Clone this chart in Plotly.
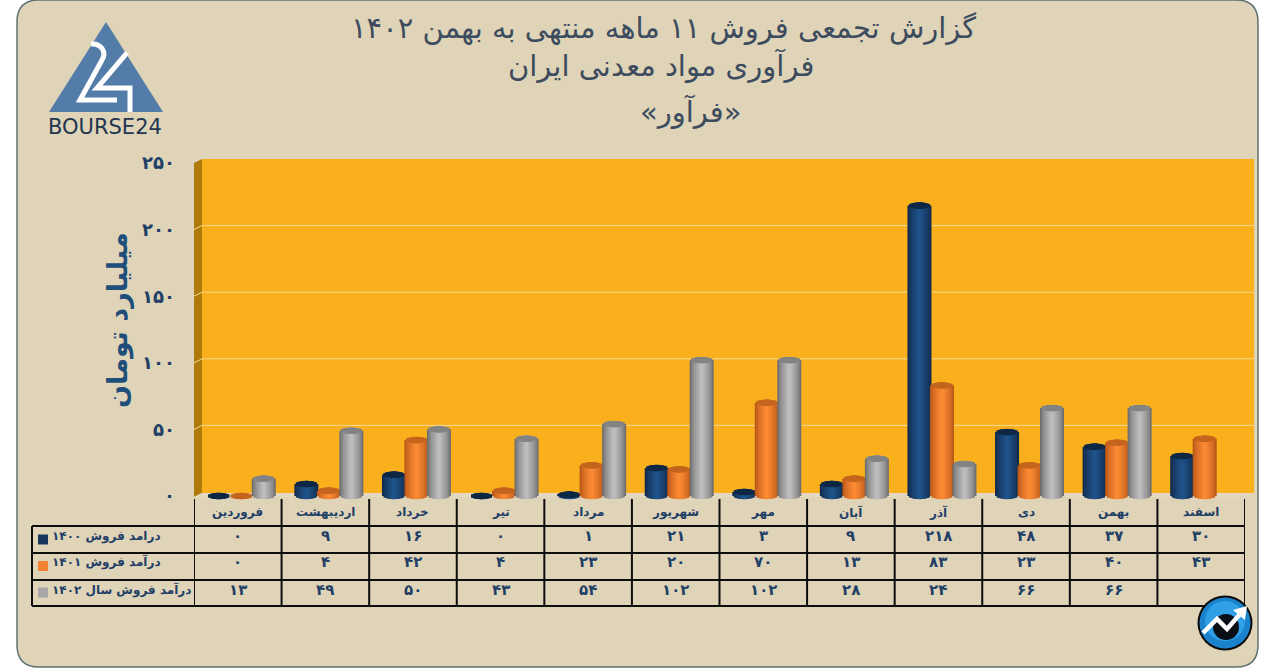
import math
import plotly.graph_objects as go

months = ["فروردین", "اردیبهشت", "خرداد", "تیر", "مرداد", "شهریور", "مهر", "آبان", "آذر", "دی", "بهمن", "اسفند"]
sales_1400 = [0, 9, 16, 0, 1, 21, 3, 9, 218, 48, 37, 30]
sales_1401 = [0, 4, 42, 4, 23, 20, 70, 13, 83, 23, 40, 43]
sales_1402 = [13, 49, 50, 43, 54, 102, 102, 28, 24, 66, 66, None]
row_labels = ["درامد فروش ۱۴۰۰", "درآمد فروش ۱۴۰۱", "درآمد فروش سال ۱۴۰۲"]
y_ticks = [0, 50, 100, 150, 200, 250]
title_lines = ["گزارش تجمعی فروش ۱۱ ماهه منتهی به بهمن ۱۴۰۲", "فرآوری مواد معدنی ایران", "«فرآور»"]
y_title = "میلیارد تومان"
brand = "BOURSE24"

W, H = 1271, 669
FONT = "DejaVu Sans"
NAVY = "#1F3F66"


def fa(v):
    return "" if v is None else str(v).translate(str.maketrans("0123456789", "۰۱۲۳۴۵۶۷۸۹"))


def px(x):
    return x / W


def py(y):
    return 1 - y / H


def pt(x, y):
    return f"{px(x):.5f},{py(y):.5f}"


def path(points, close=True):
    s = "M " + " L ".join(pt(x, y) for x, y in points)
    return s + (" Z" if close else "")


PLOT_L, PLOT_R, Y0, Y250 = 194, 1245, 496, 163
UNIT = (Y0 - Y250) / 250
BAND = (PLOT_R - PLOT_L) / 12
AXIS_FLOOR = -6  # room below zero for the rounded cylinder bottoms

series = [
    (sales_1400, "#11294A", "#1F5288", "#0E2744", -22.5),
    (sales_1401, "#B9571A", "#FB8A33", "#C4651E", 0.0),
    (sales_1402, "#6E6E6E", "#BDBDBD", "#838383", 22.5),
]


def mix(a, b, t):
    ca = [int(a[i:i + 2], 16) for i in (1, 3, 5)]
    cb = [int(b[i:i + 2], 16) for i in (1, 3, 5)]
    return "#" + "".join(f"{round(p + (q - p) * t):02x}" for p, q in zip(ca, cb))


fig = go.Figure()
LEVELS = 8
HALF = 12.0
SEMI = 3.2
for vals, edge, centre, cap, off_px in series:
    idx = [i for i, v in enumerate(vals) if v is not None]
    xs = [i + (off_px + 3.5) / BAND for i in idx]
    vs = [vals[i] for i in idx]
    for part in ("body", "cap"):
        for k in range(LEVELS):
            d = HALF * (1 - k / LEVELS)
            e = SEMI * math.sqrt(max(0, 1 - (d / HALF) ** 2)) / UNIT
            if part == "body":
                t = (k / (LEVELS - 1)) ** 0.7
                colour = mix(edge, centre, t)
                base = [-e] * len(vs)
                height = [v + 2 * e for v in vs]
            else:
                colour = cap
                base = [v - e for v in vs]
                height = [2 * e] * len(vs)
            fig.add_trace(go.Bar(x=xs, y=height, base=base, width=2 * d / BAND,
                                 marker=dict(color=colour, line=dict(width=0)),
                                 cliponaxis=False, hoverinfo="skip", showlegend=False))

shapes = []
# card
R = 22
L, T, Rt, B = 17, 0, 1258, 667
card = (f"M {pt(L + R, T)} L {pt(Rt - R, T)} Q {pt(Rt, T)} {pt(Rt, T + R)} L {pt(Rt, B - R)} "
        f"Q {pt(Rt, B)} {pt(Rt - R, B)} L {pt(L + R, B)} Q {pt(L, B)} {pt(L, B - R)} "
        f"L {pt(L, T + R)} Q {pt(L, T)} {pt(L + R, T)} Z")
shapes.append(dict(type="path", path=card, xref="paper", yref="paper", fillcolor="#DFD3B8",
                   line=dict(color="#5E7370", width=1.5), layer="below"))
# walls
shapes.append(dict(type="path", path=path([(202, 159), (1254, 159), (1254, 493), (202, 493)]), xref="paper",
                   yref="paper", fillcolor="#FAB01C", line=dict(width=0), layer="below"))
shapes.append(dict(type="path", path=path([(194, 163), (202, 159), (202, 493), (194, 497)]), xref="paper",
                   yref="paper", fillcolor="#AE7A0A", line=dict(width=0), layer="below"))
shapes.append(dict(type="path", path=path([(194, 497), (202, 493), (1254, 493), (1245, 497)]), xref="paper",
                   yref="paper", fillcolor="#E4D9C0", line=dict(width=0), layer="below"))
# gridlines on the back wall
for t in y_ticks[1:-1]:
    yy = Y0 - t * UNIT
    shapes.append(dict(type="path", path=f"M {pt(194, yy)} L {pt(202, yy - 4)} L {pt(1254, yy - 4)}",
                       xref="paper", yref="paper", line=dict(color="#F6D995", width=1), layer="below"))
# table
LINE = dict(color="#0D0D0D", width=2)
for yy in (526, 553, 580, 606):
    shapes.append(dict(type="line", xref="paper", yref="paper", x0=px(32), x1=px(PLOT_R), y0=py(yy), y1=py(yy), line=LINE))
shapes.append(dict(type="line", xref="paper", yref="paper", x0=px(32), x1=px(32), y0=py(526), y1=py(606), line=LINE))
for k in range(13):
    shapes.append(dict(type="line", xref="x", yref="paper", x0=k - 0.5, x1=k - 0.5, y0=py(499), y1=py(606), line=LINE))
# legend keys
for (yy, c) in zip((539.5, 566, 592.5), ("#17375E", "#F58233", "#A8A8A8")):
    shapes.append(dict(type="rect", xref="paper", yref="paper", x0=px(38), x1=px(48), y0=py(yy - 5), y1=py(yy + 5),
                       fillcolor=c, line=dict(width=0)))
# logo
shapes.append(dict(type="path", path=path([(106, 22), (163, 112), (49, 112)]), xref="paper", yref="paper",
                   fillcolor="#537CA8", line=dict(width=0)))
two = f"M {pt(91, 44)} C {pt(101, 43)} {pt(107, 52)} {pt(102, 60)} L {pt(80, 100)} L {pt(117, 100)}"
shapes.append(dict(type="path", path=two, xref="paper", yref="paper", line=dict(color="white", width=5)))
shapes.append(dict(type="path", path=path([(127, 53), (97, 88), (130, 88), (130, 112)], close=False),
                   xref="paper", yref="paper", line=dict(color="white", width=5)))


# icon
def circle(cx, cy, r, c):
    return dict(type="circle", xref="paper", yref="paper", x0=px(cx - r), x1=px(cx + r), y0=py(cy + r), y1=py(cy - r),
                fillcolor=c, line=dict(width=0))


shapes += [circle(1225, 623, 27.5, "#0B0B0B"), circle(1225, 623, 25.5, "#1B82CC"),
           circle(1225, 621, 20, "#2F9FE6"), circle(1226, 627, 13, "#0A0F16")]
shapes.append(dict(type="path", path=path([(1203, 633), (1217, 619), (1227, 629), (1241, 613)], close=False), xref="paper",
                   yref="paper", line=dict(color="white", width=4.5)))
shapes.append(dict(type="path", path=path([(1233, 610), (1247, 606), (1245, 620)]), xref="paper", yref="paper",
                   fillcolor="white", line=dict(width=0)))

ann = []


def text(x, y, s, size, colour=NAVY, bold=False, anchor="center", angle=0):
    ann.append(dict(x=px(x), y=py(y), xref="paper", yref="paper", text=f"<b>{s}</b>" if bold else s, showarrow=False,
                    xanchor=anchor, yanchor="middle", textangle=angle,
                    font=dict(family=FONT, size=size, color=colour)))


for line, xx, yy in zip(title_lines, (663, 661, 690), (28, 66, 111)):
    text(xx, yy, line, 29, "#3C4C5E")
text(105, 127, brand, 21, "#22364F")
text(118, 320, y_title, 27, "#1F4E7A", bold=True, angle=-90)
for label, yy in zip(row_labels, (536, 562, 590)):
    text(50, yy, label, 12, NAVY, bold=True, anchor="left")
for i, m in enumerate(months):
    cx = PLOT_L + BAND * (i + 0.5)
    text(cx, 512, m, 12, NAVY, bold=True)
    for vals, yy in zip((sales_1400, sales_1401, sales_1402), (536, 562, 590)):
        text(cx, yy, fa(vals[i]), 15, NAVY, bold=True)

fig.update_layout(
    width=W, height=H, margin=dict(l=0, r=0, t=0, b=0, autoexpand=False), paper_bgcolor="white",
    plot_bgcolor="rgba(0,0,0,0)",
    barmode="overlay", showlegend=False, shapes=shapes, annotations=ann,
    xaxis=dict(domain=[px(PLOT_L), px(PLOT_R)], range=[-0.5, 11.5], visible=False, fixedrange=True),
    yaxis=dict(domain=[py(Y0 - AXIS_FLOOR * UNIT), py(Y250)], range=[AXIS_FLOOR, 250], tickvals=y_ticks,
               ticktext=[fa(t) for t in y_ticks], showgrid=False, zeroline=False, showline=False, ticks="",
               ticklabelstandoff=18, fixedrange=True,
               tickfont=dict(family=FONT, size=18, color="#1F3F66", weight="bold")),
)
fig.write_html("out.html", config=dict(displayModeBar=False), post_script="document.body.style.margin='0';")
